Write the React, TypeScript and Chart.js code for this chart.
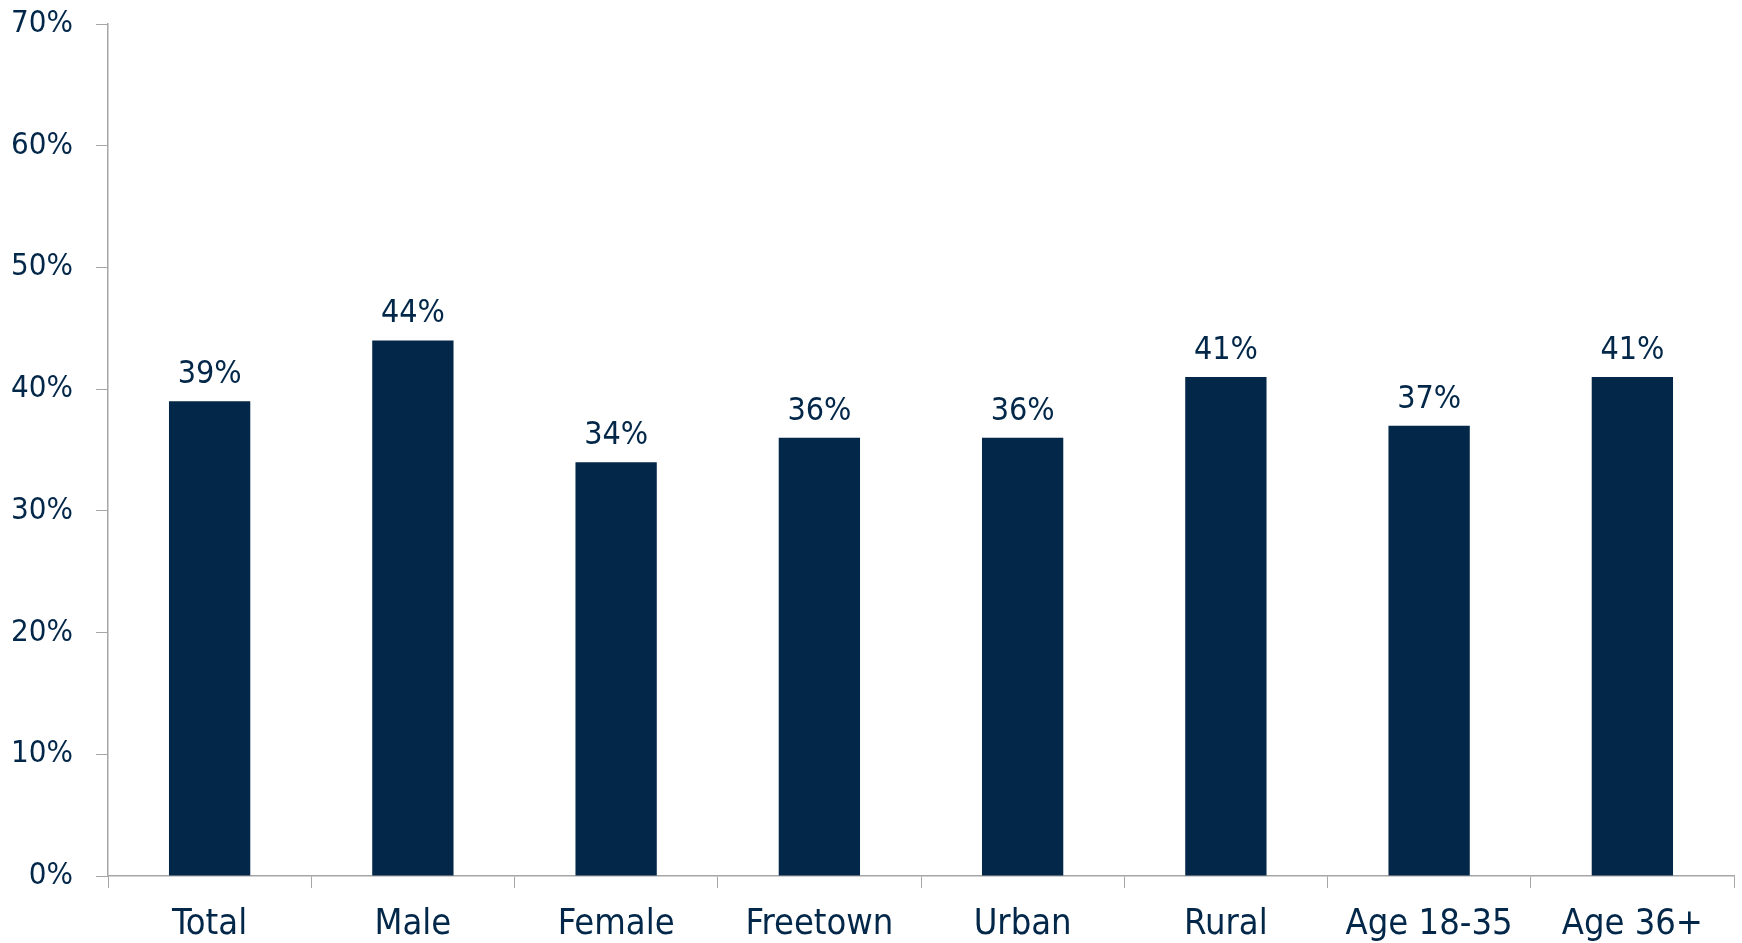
import React, { useEffect, useRef } from "react";
import { Chart, registerables } from "chart.js";
Chart.register(...registerables);

const categories = ["Total", "Male", "Female", "Freetown", "Urban", "Rural", "Age 18-35", "Age 36+"];
const values = [39, 44, 34, 36, 36, 41, 37, 41];
const yMin = 0;
const yMax = 70;
const yStep = 10;

const NAVY = "#022749";
const AXIS = "#a6a6a6";
const FONT = "'DejaVu Sans Condensed', 'DejaVu Sans', sans-serif";

export default function App() {
  const ref = useRef<HTMLCanvasElement>(null);
  useEffect(() => {
    const labelPlugin = {
      id: "barLabels",
      afterDatasetsDraw(chart: any) {
        const ctx = chart.ctx;
        const meta = chart.getDatasetMeta(0);
        ctx.save();
        ctx.font = `32px ${FONT}`;
        ctx.fillStyle = NAVY;
        ctx.textAlign = "center";
        ctx.textBaseline = "alphabetic";
        meta.data.forEach((bar: any, i: number) => {
          ctx.fillText(values[i] + "%", bar.x, bar.y - 18);
        });
        ctx.restore();
      },
    };
    const chart = new Chart(ref.current as HTMLCanvasElement, {
      type: "bar",
      data: {
        labels: categories,
        datasets: [
          {
            data: values,
            backgroundColor: NAVY,
            barPercentage: 0.4,
            categoryPercentage: 1,
          },
        ],
      },
      options: {
        animation: false,
        responsive: false,
        maintainAspectRatio: false,
        layout: { padding: { top: 24, right: 8, left: 0, bottom: 0 } },
        plugins: { legend: { display: false }, tooltip: { enabled: false } },
        scales: {
          x: {
            grid: { drawOnChartArea: false, drawTicks: true, tickLength: 12, color: AXIS, lineWidth: 1 },
            border: { color: AXIS, width: 1.5 },
            ticks: { font: { family: FONT, size: 36 }, color: NAVY, padding: 15, maxRotation: 0 },
            afterFit: (s: any) => {
              s.height = 67;
              s.paddingLeft = 0;
              s.paddingRight = 0;
            },
          },
          y: {
            min: yMin,
            max: yMax,
            grid: { drawOnChartArea: false, drawTicks: true, tickLength: 12, color: AXIS, lineWidth: 1 },
            border: { color: AXIS, width: 1.5 },
            ticks: {
              stepSize: yStep,
              font: { family: FONT, size: 31 },
              color: NAVY,
              padding: 23,
              callback: (v: any) => v + "%",
            },
            afterFit: (s: any) => {
              s.width = 108;
              s.paddingTop = 0;
              s.paddingBottom = 0;
            },
          },
        },
      },
      plugins: [labelPlugin],
    });
    return () => chart.destroy();
  }, []);
  return (
    <div style={{ position: "absolute", left: 0, top: 0, width: 1742, height: 943, background: "#fff" }}>
      <canvas ref={ref} width={1742} height={943} style={{ display: "block", width: 1742, height: 943 }} />
    </div>
  );
}
